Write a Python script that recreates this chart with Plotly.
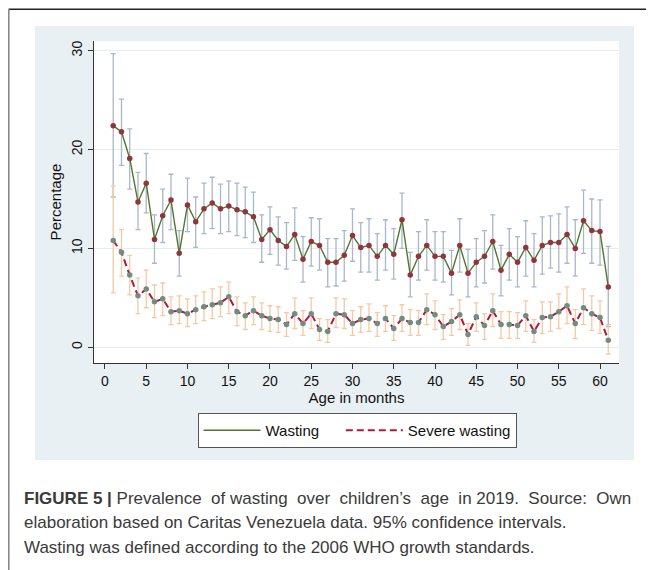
import plotly.graph_objects as go

months = list(range(1, 62))

wasting = [22.4, 21.8, 19.1, 14.7, 16.6, 10.9, 13.3, 14.9, 9.5, 14.4,
           12.7, 14.0, 14.6, 14.0, 14.3, 13.9, 13.7, 13.2, 10.9, 11.9,
           10.8, 10.2, 11.4, 8.9, 10.7, 10.3, 8.6, 8.6, 9.3, 11.3,
           10.1, 10.3, 9.2, 10.3, 9.4, 12.9, 7.3, 9.2, 10.3, 9.2,
           9.2, 7.5, 10.3, 7.5, 8.6, 9.2, 10.7, 7.8, 9.4, 8.6,
           10.1, 8.8, 10.3, 10.6, 10.6, 11.4, 10.0, 12.8, 11.8, 11.7, 6.1]
wasting_hi = [29.7, 25.1, 22.1, 17.7, 19.6, 13.4, 16.0, 17.5, 11.8, 17.1,
              15.2, 16.6, 17.2, 16.5, 16.8, 16.6, 16.2, 15.7, 13.4, 14.2,
              13.2, 12.6, 14.1, 11.2, 13.1, 13.0, 11.0, 11.0, 11.8, 14.0,
              12.6, 13.0, 11.5, 12.9, 12.0, 15.6, 9.6, 11.7, 12.9, 11.7,
              11.7, 9.8, 13.0, 9.9, 11.0, 11.8, 13.4, 10.3, 12.0, 11.2,
              12.8, 11.5, 13.2, 13.3, 13.5, 14.2, 12.9, 15.9, 15.0, 14.9, 10.2]
wasting_lo = [15.2, 18.4, 16.0, 11.9, 13.6, 8.5, 10.6, 11.9, 7.2, 11.7,
              10.1, 11.5, 12.0, 11.5, 11.7, 11.3, 11.1, 10.6, 8.6, 9.4,
              8.3, 7.9, 8.8, 6.6, 8.2, 7.8, 6.1, 6.2, 6.7, 8.7,
              7.6, 7.6, 6.8, 7.8, 6.9, 10.0, 5.1, 6.8, 7.8, 6.8,
              6.6, 5.3, 7.6, 5.1, 6.1, 6.5, 7.9, 5.2, 6.8, 6.1,
              7.2, 6.1, 7.4, 8.0, 7.6, 8.5, 7.2, 9.5, 8.5, 8.3, 2.1]

severe = [10.8, 9.6, 7.3, 5.2, 5.9, 4.6, 4.9, 3.6, 3.7, 3.4,
          3.8, 4.1, 4.3, 4.5, 5.1, 3.6, 3.2, 3.7, 3.2, 2.9,
          2.8, 2.3, 3.4, 2.4, 3.4, 1.8, 1.6, 3.4, 3.3, 2.4,
          2.8, 2.9, 2.4, 2.9, 1.9, 2.9, 2.5, 2.5, 3.8, 3.3,
          2.1, 2.6, 3.3, 1.3, 3.1, 2.2, 3.7, 2.3, 2.3, 2.2,
          3.2, 1.6, 3.0, 3.1, 3.6, 4.2, 2.4, 4.0, 3.4, 3.0, 0.7]
severe_hi = [16.3, 11.9, 9.3, 7.0, 7.8, 6.3, 6.5, 5.1, 5.2, 4.9,
             5.2, 5.6, 5.9, 6.1, 6.6, 5.1, 4.5, 5.1, 4.5, 4.2,
             4.1, 3.5, 5.0, 3.7, 5.0, 2.9, 2.8, 5.0, 4.9, 3.7,
             4.1, 4.4, 3.5, 4.2, 3.2, 4.3, 3.8, 3.7, 5.4, 4.7,
             3.3, 3.9, 4.8, 2.4, 4.5, 3.4, 5.4, 3.6, 3.6, 3.5,
             4.7, 2.8, 4.6, 4.6, 5.4, 6.1, 3.8, 5.9, 5.2, 4.7, 2.3]
severe_lo = [5.5, 7.2, 5.3, 3.4, 4.0, 3.0, 3.2, 2.3, 2.4, 2.1,
             2.4, 2.7, 2.9, 3.1, 3.4, 2.2, 1.8, 2.3, 1.8, 1.6,
             1.5, 1.1, 1.9, 1.2, 1.9, 0.7, 0.5, 2.0, 1.9, 1.2,
             1.5, 1.6, 1.1, 1.6, 0.7, 1.6, 1.2, 1.2, 2.3, 1.8,
             0.8, 1.2, 1.8, 0.2, 1.6, 0.8, 2.1, 0.9, 0.9, 0.9,
             1.6, 0.5, 1.4, 1.6, 1.9, 2.4, 0.9, 2.3, 1.7, 1.4, -0.7]

x_ticks = [0, 5, 10, 15, 20, 25, 30, 35, 40, 45, 50, 55, 60]
y_ticks = [0, 10, 20, 30]

series_names = ["Wasting", "Severe wasting"]

# first caption line is justified in the reference: widen most word gaps
_words = "Prevalence of wasting over children\u2019s age in 2019. Source: Own".split(" ")
_line1 = _words[0]
for i, w in enumerate(_words[1:]):
    _line1 += (" " if i in (1, 6) else " \u00a0") + w
caption_lines = [
    "<b>FIGURE 5 |</b> " + _line1,
    "elaboration based on Caritas Venezuela data. 95% confidence intervals.",
    "Wasting was defined according to the 2006 WHO growth standards.",
]

# ---- geometry in page pixels; page has an 8px body margin ----
OFF = 8
W, H = 654 - OFF, 570 - OFF
PL, PR, PT, PB = 94, 619, 41, 363   # plot area in page pixels


def px(xp):
    return (xp - PL) / (PR - PL)


def py(yp):
    return (PB - yp) / (PB - PT)


FONT = "Liberation Sans, Arial, Helvetica, sans-serif"

fig = go.Figure()

# CI traces
fig.add_trace(go.Scatter(
    x=months, y=wasting, mode="markers",
    marker=dict(size=1, opacity=0),
    error_y=dict(type="data", symmetric=False,
                 array=[h - v for h, v in zip(wasting_hi, wasting)],
                 arrayminus=[v - l for v, l in zip(wasting, wasting_lo)],
                 color="#a9b7cb", thickness=1.3, width=2.5),
    showlegend=False, hoverinfo="skip"))
fig.add_trace(go.Scatter(
    x=months, y=severe, mode="markers",
    marker=dict(size=1, opacity=0),
    error_y=dict(type="data", symmetric=False,
                 array=[h - v for h, v in zip(severe_hi, severe)],
                 arrayminus=[v - l for v, l in zip(severe, severe_lo)],
                 color="#f6c9a2", thickness=1.3, width=2.5),
    showlegend=False, hoverinfo="skip"))

# Lines
fig.add_trace(go.Scatter(
    x=months, y=wasting, mode="lines+markers", name=series_names[0],
    line=dict(color="#55752f", width=1.4),
    marker=dict(color="#90353b", size=5.5),
    showlegend=False))
fig.add_trace(go.Scatter(
    x=months, y=severe, mode="lines+markers", name=series_names[1],
    line=dict(color="#b5163d", width=2, dash="7px,4px"),
    marker=dict(color="#6e8e84", size=5.5),
    showlegend=False))

# legend-only traces (line symbols only, as in the reference)
fig.add_trace(go.Scatter(x=[None], y=[None], mode="lines",
                         name=series_names[0] + "\u00a0" * 4,
                         line=dict(color="#55752f", width=1.4)))
fig.add_trace(go.Scatter(x=[None], y=[None], mode="lines",
                         name=series_names[1],
                         line=dict(color="#b5163d", width=2, dash="7px,4px")))

shapes = [
    # light background region
    dict(type="rect", xref="paper", yref="paper", layer="below",
         x0=px(35), x1=px(634), y0=py(460), y1=py(26),
         fillcolor="#e9f0f3", line=dict(width=0)),
    # white plot region
    dict(type="rect", xref="paper", yref="paper", layer="below",
         x0=0, x1=1, y0=0, y1=1,
         fillcolor="white", line=dict(width=0)),
    # page top border
    dict(type="line", xref="paper", yref="paper",
         x0=px(8.6), x1=px(660), y0=py(9.2), y1=py(9.2),
         line=dict(color="#222", width=1.6)),
    # page left border
    dict(type="line", xref="paper", yref="paper",
         x0=px(8.8), x1=px(8.8), y0=py(9.2), y1=py(580),
         line=dict(color="#888", width=1.6)),
]

annotations = []
for line, yc in zip(caption_lines, [498, 522, 547]):
    annotations.append(dict(
        text=line, xref="paper", yref="paper", x=px(22), y=py(yc),
        xanchor="left", yanchor="middle", showarrow=False,
        font=dict(family=FONT, size=17, color="#3a3a3a")))

fig.update_layout(
    width=W, height=H,
    margin=dict(l=PL - OFF, r=W - (PR - OFF), t=PT - OFF, b=H - (PB - OFF), pad=0),
    paper_bgcolor="white",
    plot_bgcolor="rgba(0,0,0,0)",
    font=dict(family=FONT, size=14, color="#111"),
    shapes=shapes,
    annotations=annotations,
    legend=dict(orientation="h", x=px(357), xanchor="center",
                y=py(413), yanchor="top",
                bgcolor="white", bordercolor="#555", borderwidth=1,
                font=dict(family=FONT, size=15, color="#111"),
                itemwidth=57, tracegroupgap=0),
    xaxis=dict(range=[-1.33, 62.3], tickvals=x_ticks,
               ticks="outside", ticklen=5, tickcolor="#333",
               showline=True, linecolor="#333", linewidth=1.2,
               showgrid=False, zeroline=False,
               tickfont=dict(size=14),
               title=dict(text="Age in months", standoff=2,
                          font=dict(size=15))),
    yaxis=dict(range=[-1.59, 30.98], tickvals=y_ticks,
               ticks="outside", ticklen=5, tickcolor="#333",
               tickangle=-90,
               showline=True, linecolor="#333", linewidth=1.2,
               showgrid=True, gridcolor="#e6eef1", gridwidth=1,
               zeroline=False,
               tickfont=dict(size=14),
               title=dict(text="Percentage", standoff=4,
                          font=dict(size=15))),
)

fig.write_html("out.html", config={"displayModeBar": False})
